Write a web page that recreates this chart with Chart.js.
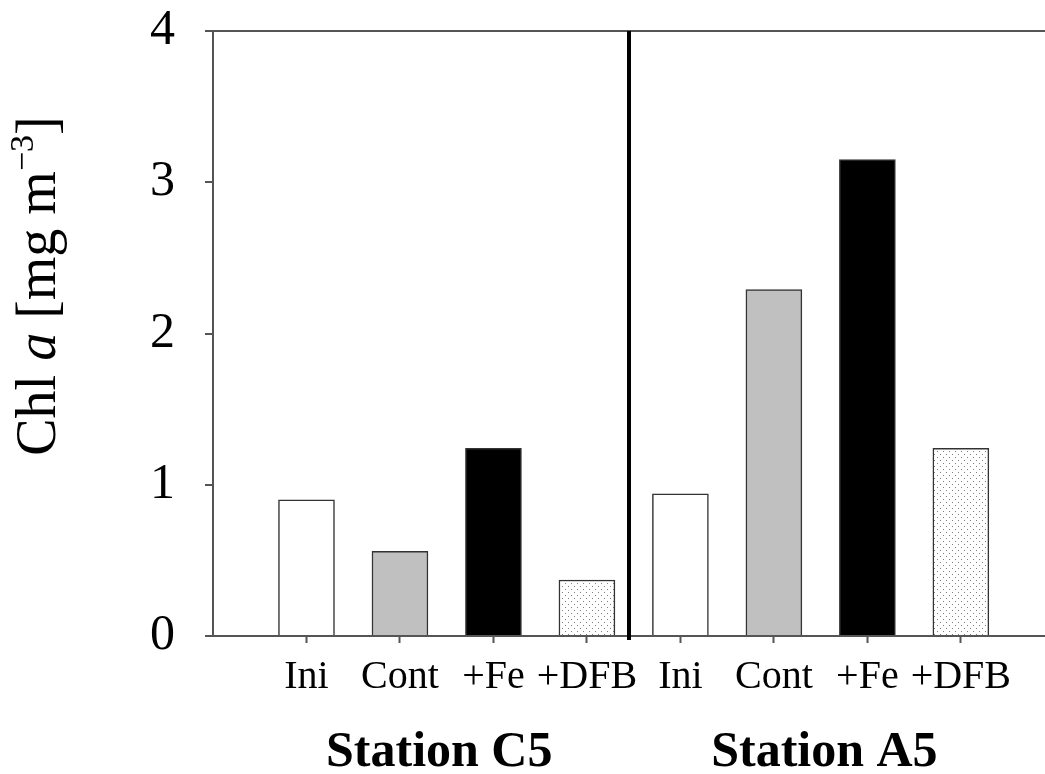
<!DOCTYPE html>
<html>
<head>
<meta charset="utf-8">
<script src="https://cdn.jsdelivr.net/npm/chart.js@4.4.0/dist/chart.umd.min.js"></script>
<style>
  html, body { margin: 0; padding: 0; background: #fff; }
  #wrap { width: 1045px; height: 774px; position: relative; }
</style>
</head>
<body>
<div id="wrap"><canvas id="c" width="1045" height="774"></canvas></div>
<script>
// ---- data ----
const categories = ['Ini', 'Cont', '+Fe', '+DFB', 'Ini', 'Cont', '+Fe', '+DFB'];
const stationC5 = [0.90, 0.56, 1.24, 0.37];
const stationA5 = [0.94, 2.29, 3.15, 1.24];
const stations = ['Station C5', 'Station A5'];
const yTicks = [0, 1, 2, 3, 4];

const values = stationC5.concat(stationA5);
const points = values.map((v, i) => ({ x: i + 1, y: v }));

// dotted pattern for +DFB
function dotPattern() {
  const p = document.createElement('canvas');
  p.width = 6; p.height = 6;
  const g = p.getContext('2d');
  g.fillStyle = '#ffffff';
  g.fillRect(0, 0, 6, 6);
  g.fillStyle = '#808080';
  g.fillRect(1, 1, 1, 1);
  g.fillRect(4, 4, 1, 1);
  return g.createPattern(p, 'repeat');
}
const ctx0 = document.getElementById('c').getContext('2d');
const dots = dotPattern();
const treatmentFill = ['#ffffff', '#c0c0c0', '#000000', dots];
const fills = values.map((v, i) => treatmentFill[i % 4]);

const SERIF = '"Liberation Serif", "Times New Roman", serif';
const AXIS = '#555555';

const dividerPlugin = {
  id: 'divider',
  afterDatasetsDraw(chart) {
    const { ctx, chartArea, scales } = chart;
    const x = scales.x.getPixelForValue(4.45);
    ctx.save();
    ctx.strokeStyle = '#000';
    ctx.lineWidth = 4;
    ctx.beginPath();
    ctx.moveTo(x, chartArea.top);
    ctx.lineTo(x, chartArea.bottom + 4);
    ctx.stroke();
    ctx.restore();
  }
};

const textPlugin = {
  id: 'texts',
  afterDraw(chart) {
    const { ctx, scales } = chart;
    ctx.save();
    ctx.fillStyle = '#000';
    // station labels
    ctx.font = 'bold 50px ' + SERIF;
    ctx.textAlign = 'center';
    ctx.textBaseline = 'alphabetic';
    const pos = [2.42, 6.54];
    stations.forEach((s, i) => {
      ctx.fillText(s, scales.x.getPixelForValue(pos[i]), 766);
    });
    // y-axis title: Chl a [mg m^-3]
    const parts = [
      { t: 'Chl ', f: '56px ' + SERIF, dy: 0 },
      { t: 'a', f: 'italic 56px ' + SERIF, dy: 0 },
      { t: ' [mg m', f: '56px ' + SERIF, dy: 0 },
      { t: '\u22123', f: '34px ' + SERIF, dy: -22 },
      { t: ']', f: '56px ' + SERIF, dy: 0 }
    ];
    let total = 0;
    parts.forEach(p => { ctx.font = p.f; p.w = ctx.measureText(p.t).width; total += p.w; });
    ctx.translate(55, 286);
    ctx.rotate(-Math.PI / 2);
    ctx.textAlign = 'left';
    let x = -total / 2;
    parts.forEach(p => {
      ctx.font = p.f;
      ctx.fillText(p.t, x, p.dy);
      x += p.w;
    });
    ctx.restore();
  }
};

new Chart(ctx0, {
  type: 'bar',
  data: {
    datasets: [{
      data: points,
      backgroundColor: fills,
      borderColor: '#333333',
      borderWidth: 1.5,
      borderSkipped: 'bottom',
      barThickness: 56
    }]
  },
  options: {
    responsive: false,
    animation: false,
    layout: { padding: { top: 31, right: 0, left: 0, bottom: 0 } },
    plugins: { legend: { display: false }, tooltip: { enabled: false } },
    scales: {
      x: {
        type: 'linear',
        offset: false,
        min: 0,
        max: 8.9,
        afterBuildTicks(s) { s.ticks = categories.map((c, i) => ({ value: i + 1 })); },
        afterFit(s) { s.height = 138; s.paddingLeft = 0; s.paddingRight = 0; },
        ticks: {
          autoSkip: false,
          maxRotation: 0,
          padding: 10,
          color: '#000',
          font: { family: SERIF, size: 40 },
          callback: (v) => categories[Math.round(v) - 1] || ''
        },
        grid: {
          offset: false,
          drawOnChartArea: false,
          drawTicks: true,
          tickLength: 7,
          tickColor: AXIS,
          tickWidth: 2
        },
        border: { display: true, color: AXIS, width: 2 }
      },
      y: {
        min: 0,
        max: 4,
        afterBuildTicks(s) { s.ticks = yTicks.map(v => ({ value: v })); },
        afterFit(s) { s.width = 213; s.paddingTop = 0; s.paddingBottom = 0; },
        ticks: {
          padding: 30,
          color: '#000',
          font: { family: SERIF, size: 50 },
          callback: (v) => String(v)
        },
        grid: {
          drawOnChartArea: true,
          color: (c) => (c.tick && c.tick.value === 4) ? AXIS : 'rgba(0,0,0,0)',
          lineWidth: 2,
          drawTicks: true,
          tickLength: 8,
          tickColor: AXIS,
          tickWidth: 2
        },
        border: { display: true, color: AXIS, width: 2 }
      }
    }
  },
  plugins: [dividerPlugin, textPlugin]
});
</script>
</body>
</html>
